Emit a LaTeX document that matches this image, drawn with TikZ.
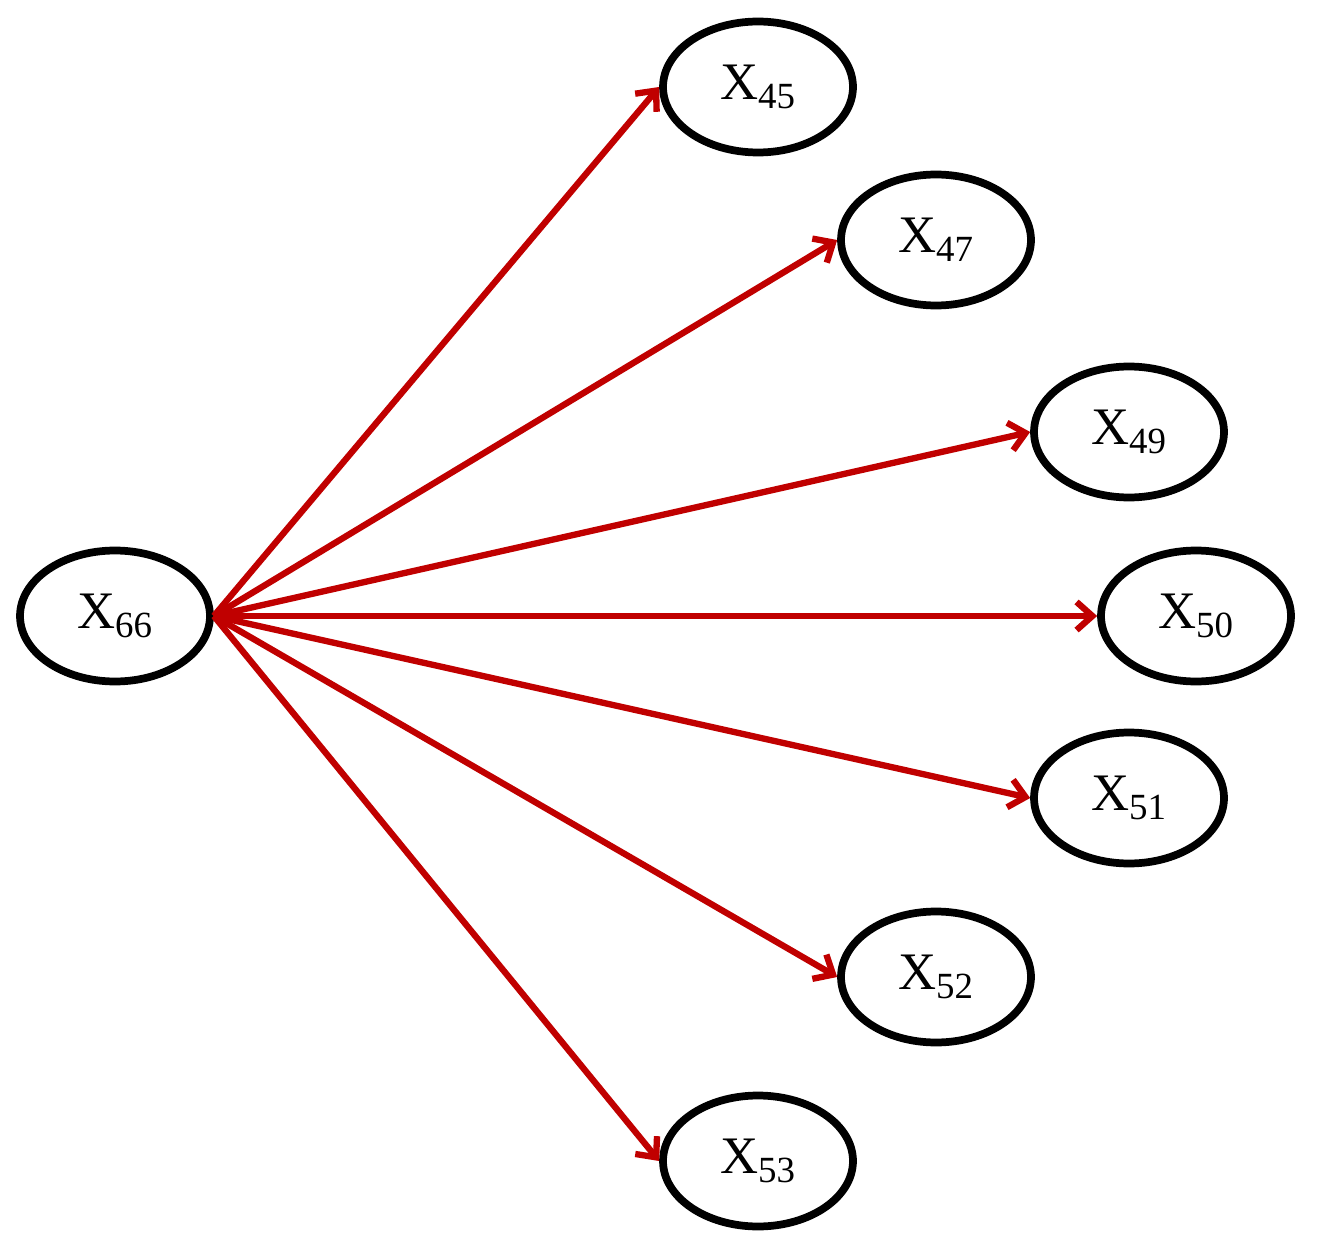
\documentclass[tikz,border=0pt]{standalone}
\usepackage{fontspec}
\setmainfont{Liberation Serif}
\usetikzlibrary{arrows.meta,shapes.geometric}
\definecolor{arrowred}{RGB}{192,0,0}

\begin{document}
\begin{tikzpicture}[
        x=0.02cm, y=-0.02cm,
        var/.style={draw, ellipse, line width=4.4pt, minimum width=3.8cm, minimum height=2.62cm, inner sep=0pt, font=\fontsize{30}{30}\selectfont},
        link/.style={draw=arrowred, line width=3.6pt, -{Straight Barb[length=9pt, width=16pt]}}
    ]
        \useasboundingbox (0,0) rectangle (1318,1253);

        \node[var] (x66) at (115,616) {X\textsubscript{66}};
        \node[var] (x45) at (758,87) {X\textsubscript{45}};
        \node[var] (x47) at (936,240) {X\textsubscript{47}};
        \node[var] (x49) at (1129,432) {X\textsubscript{49}};
        \node[var] (x50) at (1196,616) {X\textsubscript{50}};
        \node[var] (x51) at (1129,798) {X\textsubscript{51}};
        \node[var] (x52) at (936,977) {X\textsubscript{52}};
        \node[var] (x53) at (758,1161) {X\textsubscript{53}};

        \foreach \t in {45,47,49,50,51,52,53}
            \draw[link] (x66.east) -- (x\t.west);
    \end{tikzpicture}
\end{document}
